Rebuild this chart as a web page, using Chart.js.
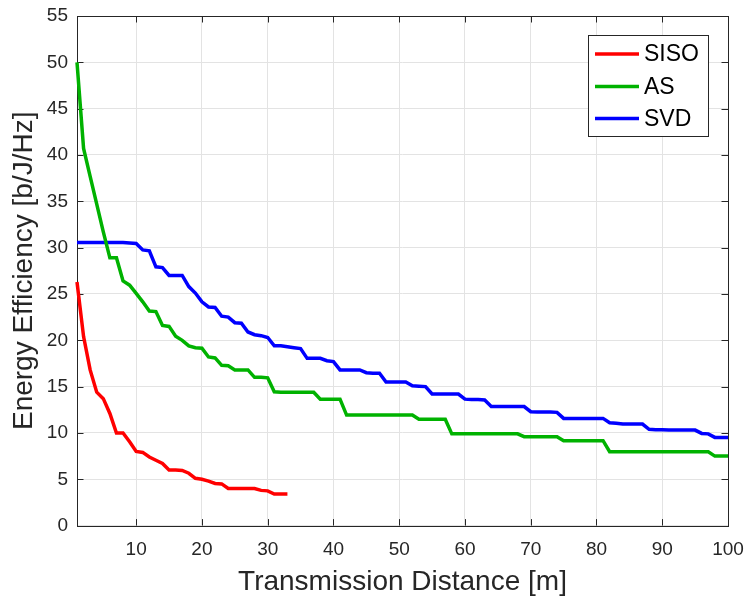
<!DOCTYPE html>
<html>
<head>
<meta charset="utf-8">
<script src="https://cdn.jsdelivr.net/npm/chart.js@4/dist/chart.umd.min.js"></script>
<style>
  html, body { margin: 0; padding: 0; background: #fff; }
  canvas { display: block; }
</style>
</head>
<body>
<canvas id="eeChart" width="748" height="596"></canvas>
<script>
// transmission distance [m]
const distance = [
  1, 2, 3, 4, 5, 6, 7, 8, 9, 10, 11, 12, 13, 14, 15, 16, 17, 18, 19, 20,
  21, 22, 23, 24, 25, 26, 27, 28, 29, 30, 31, 32, 33, 34, 35, 36, 37, 38, 39, 40,
  41, 42, 43, 44, 45, 46, 47, 48, 49, 50, 51, 52, 53, 54, 55, 56, 57, 58, 59, 60,
  61, 62, 63, 64, 65, 66, 67, 68, 69, 70, 71, 72, 73, 74, 75, 76, 77, 78, 79, 80,
  81, 82, 83, 84, 85, 86, 87, 88, 89, 90, 91, 92, 93, 94, 95, 96, 97, 98, 99, 100
];

// energy efficiency [b/J/Hz]
const sisoEE = [
  26.3, 20.4, 16.8, 14.4, 13.7, 12.1, 10.0, 10.0, 9.05, 8.0,
  7.9, 7.4, 7.05, 6.7, 6.0, 6.0, 5.95, 5.65, 5.1, 5.0,
  4.8, 4.55, 4.5, 4.0, 4.0, 4.0, 4.0, 4.0, 3.8, 3.75,
  3.4, 3.4, 3.4
];
const asEE = [
  50.0, 40.7, 37.7, 34.7, 31.7, 28.9, 28.9, 26.4, 25.95, 25.06,
  24.15, 23.15, 23.1, 21.6, 21.5, 20.45, 20.0, 19.4, 19.2, 19.15,
  18.2, 18.1, 17.3, 17.25, 16.8, 16.8, 16.8, 16.0, 16.0, 15.95,
  14.45, 14.4, 14.4, 14.4, 14.4, 14.4, 14.4, 13.65, 13.65, 13.65,
  13.65, 11.93, 11.93, 11.93, 11.93, 11.93, 11.93, 11.93, 11.93, 11.93,
  11.93, 11.93, 11.47, 11.47, 11.47, 11.47, 11.47, 9.9, 9.9, 9.9,
  9.9, 9.9, 9.9, 9.9, 9.9, 9.9, 9.9, 9.9, 9.6, 9.6,
  9.6, 9.6, 9.6, 9.6, 9.16, 9.16, 9.16, 9.16, 9.16, 9.16,
  9.16, 7.97, 7.97, 7.97, 7.97, 7.97, 7.97, 7.97, 7.97, 7.97,
  7.97, 7.97, 7.97, 7.97, 7.97, 7.97, 7.97, 7.5, 7.5, 7.5
];
const svdEE = [
  30.56, 30.56, 30.56, 30.56, 30.56, 30.56, 30.55, 30.55, 30.5, 30.45,
  29.75, 29.65, 27.93, 27.85, 27.0, 27.0, 27.0, 25.8, 25.1, 24.15,
  23.6, 23.55, 22.6, 22.5, 21.9, 21.85, 20.9, 20.6, 20.5, 20.3,
  19.4, 19.4, 19.3, 19.2, 19.1, 18.05, 18.05, 18.05, 17.8, 17.7,
  16.8, 16.8, 16.8, 16.8, 16.5, 16.45, 16.45, 15.5, 15.5, 15.5,
  15.5, 15.1, 15.05, 15.0, 14.2, 14.2, 14.2, 14.2, 14.2, 13.65,
  13.6, 13.6, 13.55, 12.85, 12.85, 12.85, 12.85, 12.85, 12.85, 12.29,
  12.25, 12.25, 12.25, 12.22, 11.57, 11.57, 11.57, 11.57, 11.57, 11.57,
  11.57, 11.1, 11.05, 10.96, 10.96, 10.96, 10.96, 10.39, 10.35, 10.35,
  10.33, 10.33, 10.33, 10.31, 10.31, 9.95, 9.9, 9.52, 9.52, 9.52
];

const xTicks = [10, 20, 30, 40, 50, 60, 70, 80, 90, 100];
const yTicks = [0, 5, 10, 15, 20, 25, 30, 35, 40, 45, 50, 55];
const seriesNames = ["SISO", "AS", "SVD"];
const seriesColors = ["#ff0000", "#00b200", "#0000ff"];

const FONT = "'Liberation Sans', Arial, Helvetica, sans-serif";
const AXIS_COLOR = "#262626";

function toPoints(ys) {
  return ys.map((y, i) => ({ x: distance[i], y: y }));
}

// box around the axes with inward ticks on all four sides
const axesBox = {
  id: "axesBox",
  beforeDatasetsDraw(chart) {
    const { ctx, chartArea: a, scales } = chart;
    const tl = 6.5;
    ctx.save();
    ctx.strokeStyle = AXIS_COLOR;
    ctx.lineWidth = 1;
    ctx.beginPath();
    xTicks.forEach(v => {
      const px = Math.round(scales.x.getPixelForValue(v)) + 0.5;
      ctx.moveTo(px, a.bottom); ctx.lineTo(px, a.bottom - tl);
      ctx.moveTo(px, a.top); ctx.lineTo(px, a.top + tl);
    });
    yTicks.forEach(v => {
      const py = Math.round(scales.y.getPixelForValue(v)) + 0.5;
      ctx.moveTo(a.left, py); ctx.lineTo(a.left + tl, py);
      ctx.moveTo(a.right, py); ctx.lineTo(a.right - tl, py);
    });
    ctx.stroke();
    ctx.strokeRect(Math.round(a.left) + 0.5, Math.round(a.top) + 0.5,
      Math.round(a.right - a.left), Math.round(a.bottom - a.top));
    ctx.restore();
  },
  afterDraw(chart) {
    // legend box, top right inside the axes
    const { ctx } = chart;
    const bx = 588.5, by = 35.5, bw = 120, bh = 101;
    ctx.save();
    ctx.fillStyle = "#fff";
    ctx.fillRect(bx, by, bw, bh);
    ctx.strokeStyle = AXIS_COLOR;
    ctx.lineWidth = 1;
    ctx.strokeRect(bx, by, bw, bh);
    const rows = [54, 86.5, 118.5];
    ctx.font = "23px " + FONT;
    ctx.textBaseline = "middle";
    ctx.textAlign = "left";
    chart.data.datasets.forEach((ds, i) => {
      ctx.strokeStyle = ds.borderColor;
      ctx.lineWidth = 3.5;
      ctx.beginPath();
      ctx.moveTo(595, rows[i]);
      ctx.lineTo(639, rows[i]);
      ctx.stroke();
      ctx.fillStyle = "#000";
      ctx.fillText(ds.label, 644, rows[i] + 1);
    });
    ctx.restore();
  }
};

function makeDataset(i, ys) {
  return {
    label: seriesNames[i],
    data: toPoints(ys),
    borderColor: seriesColors[i],
    backgroundColor: seriesColors[i],
    borderWidth: 3.5,
    pointRadius: 0,
    tension: 0,
    fill: false,
    clip: 4
  };
}

new Chart(document.getElementById("eeChart"), {
  type: "line",
  data: {
    datasets: [
      makeDataset(0, sisoEE),
      makeDataset(1, asEE),
      makeDataset(2, svdEE)
    ]
  },
  options: {
    responsive: false,
    animation: false,
    devicePixelRatio: 1,
    layout: { padding: { left: 0, right: 20, top: 16, bottom: 0 } },
    plugins: {
      legend: { display: false },
      tooltip: { enabled: false }
    },
    scales: {
      x: {
        type: "linear",
        min: 1,
        max: 100,
        afterBuildTicks: s => { s.ticks = xTicks.map(v => ({ value: v })); },
        afterFit: s => { s.height = 70.4; s.paddingLeft = 0; s.paddingRight = 0; },
        border: { display: false },
        grid: { color: "#e3e3e3", lineWidth: 1, drawTicks: false },
        ticks: {
          padding: 13,
          color: AXIS_COLOR,
          font: { family: FONT, size: 19 },
          maxRotation: 0,
          autoSkip: false
        },
        title: {
          display: true,
          text: "Transmission Distance [m]",
          color: AXIS_COLOR,
          font: { family: FONT, size: 28, lineHeight: 1 },
          padding: { top: 0, bottom: 0 }
        }
      },
      y: {
        type: "linear",
        min: 0,
        max: 55,
        afterBuildTicks: s => { s.ticks = yTicks.map(v => ({ value: v })); },
        afterFit: s => { s.width = 77; s.paddingTop = 0; s.paddingBottom = 0; },
        border: { display: false },
        grid: { color: "#e3e3e3", lineWidth: 1, drawTicks: false },
        ticks: {
          padding: 9,
          color: AXIS_COLOR,
          font: { family: FONT, size: 19 },
          autoSkip: false
        },
        title: {
          display: true,
          text: "Energy Efficiency [b/J/Hz]",
          color: AXIS_COLOR,
          font: { family: FONT, size: 28, lineHeight: 1 },
          padding: { top: 10, bottom: 0 }
        }
      }
    }
  },
  plugins: [axesBox]
});
</script>
</body>
</html>
